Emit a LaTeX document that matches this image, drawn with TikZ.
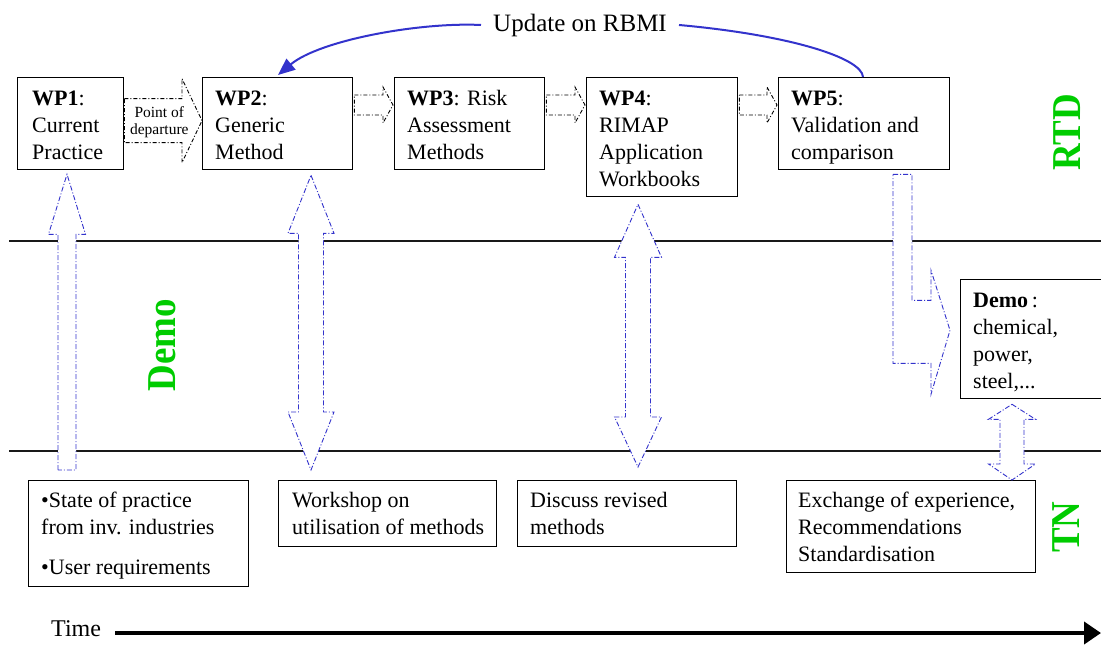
\documentclass[tikz,border=0pt]{standalone}
\usepackage{fontspec}
\usepackage{graphicx}
\setmainfont{Liberation Serif}
\usetikzlibrary{calc,arrows.meta}

\definecolor{linkblue}{RGB}{51,51,204}
\definecolor{phasegreen}{RGB}{0,204,0}

% horizontal block arrow: start, tip, shaft half-height, head half-height, head length, style
\newcommand{\hblockarrow}[6]{%
  \draw[#6] ($(#1)+(0,-#3)$) -- ($(#2)+(-#5,-#3)$) -- ($(#2)+(-#5,-#4)$) -- (#2)
    -- ($(#2)+(-#5,#4)$) -- ($(#2)+(-#5,#3)$) -- ($(#1)+(0,#3)$) -- cycle;}
% upward block arrow: flat bottom, tip, shaft half-width, head half-width, head length, style
\newcommand{\upblockarrow}[6]{%
  \draw[#6] ($(#1)+(-#3,0)$) -- ($(#2)+(-#3,#5)$) -- ($(#2)+(-#4,#5)$) -- (#2)
    -- ($(#2)+(#4,#5)$) -- ($(#2)+(#3,#5)$) -- ($(#1)+(#3,0)$) -- cycle;}
% two-headed vertical block arrow: top tip, bottom tip, shaft half-width, head half-width,
% top head length, bottom head length, style
\newcommand{\vdoublearrow}[7]{%
  \draw[#7] (#1) -- ($(#1)+(#4,#5)$) -- ($(#1)+(#3,#5)$) -- ($(#2)+(#3,-#6)$)
    -- ($(#2)+(#4,-#6)$) -- (#2) -- ($(#2)+(-#4,-#6)$) -- ($(#2)+(-#3,-#6)$)
    -- ($(#1)+(-#3,#5)$) -- ($(#1)+(-#4,#5)$) -- cycle;}

\tikzset{
  box/.style={draw=black, line width=1.3pt, fill=white, inner sep=0pt, anchor=north west},
  txt/.style={inner sep=0pt, anchor=north west, align=left,
    font=\fontsize{22}{27}\selectfont},
  phase/.style={text=phasegreen, inner sep=0pt, rotate=90,
    font=\bfseries\fontsize{41}{41}\selectfont},
  bandline/.style={draw=black!90, line width=1.6pt},
  blockblack/.style={draw=black, fill=white, line width=0.9pt,
    dash pattern=on 4pt off 2pt on 1pt off 2pt},
  blockblue/.style={draw=linkblue, fill=white, line width=0.9pt,
    dash pattern=on 5pt off 2pt on 1pt off 2pt},
  feedback/.style={draw=linkblue, line width=2pt},
  timeline/.style={line width=4pt, -{Triangle[length=17pt,width=22pt]}}
}

\begin{document}
\begin{tikzpicture}[x=1pt, y=-1pt]
\useasboundingbox (0,0) rectangle (1101,651);

% band separators
\coordinate (l1w) at (9,241);  \coordinate (l1e) at (1101,241);
\coordinate (l2w) at (9,451);  \coordinate (l2e) at (1101,451);
\draw[bandline] (l1w) -- (l1e);
\draw[bandline] (l2w) -- (l2e);

% work packages
\node[box, minimum width=106pt, minimum height=92pt]  (wp1) at (17,77)  {};
\node[box, minimum width=150pt, minimum height=92pt]  (wp2) at (202,77) {};
\node[box, minimum width=150pt, minimum height=92pt]  (wp3) at (394,77) {};
\node[box, minimum width=151pt, minimum height=119pt] (wp4) at (586,77) {};
\node[box, minimum width=171pt, minimum height=92pt]  (wp5) at (778,77) {};
\node[txt] (wp1t) at ($(wp1.north west)+(15,9.1)$) {\strut\textbf{WP1}:\\Current\\Practice};
\node[txt] (wp2t) at ($(wp2.north west)+(13,9.1)$) {\strut\textbf{WP2}:\\Generic\\Method};
\node[txt] (wp3t) at ($(wp3.north west)+(13,9.1)$) {\strut\textbf{WP3}: Risk\\Assessment\\Methods};
\node[txt] (wp4t) at ($(wp4.north west)+(13,9.1)$) {\strut\textbf{WP4}:\\RIMAP\\Application\\Workbooks};
\node[txt] (wp5t) at ($(wp5.north west)+(13,9.1)$) {\strut\textbf{WP5}:\\Validation and\\comparison};

% demonstration box
\node[box, minimum width=144pt, minimum height=119pt] (demo) at (960,279) {};
\node[txt] (demot) at ($(demo.north west)+(13,9.1)$) {\strut\textbf{Demo}\,:\\chemical,\\power,\\steel,...};

% thematic network boxes
\node[box, minimum width=220pt, minimum height=106pt] (bx1) at (28,480)  {};
\node[box, minimum width=218pt, minimum height=66pt]  (bx2) at (278,480) {};
\node[box, minimum width=219pt, minimum height=66pt]  (bx3) at (517,480) {};
\node[box, minimum width=249pt, minimum height=92pt]  (bx4) at (786,480) {};
\node[txt] (bx1t) at ($(bx1.north west)+(13,8.1)$) {\strut•State of practice\\from inv. industries\\[13pt]•User requirements};
\node[txt] (bx2t) at ($(bx2.north west)+(14,8.1)$) {\strut Workshop on\\utilisation of methods};
\node[txt] (bx3t) at ($(bx3.north west)+(13,8.1)$) {\strut Discuss revised\\methods};
\node[txt] (bx4t) at ($(bx4.north west)+(12,8.1)$) {\strut Exchange of experience,\\Recommendations\\Standardisation};

% flow between work packages
\hblockarrow{$(wp1.east)+(0,-3)$}{$(wp2.west)+(0,-3)$}{22}{42}{20}{blockblack}
\node[inner sep=0pt, anchor=north, align=center, font=\fontsize{15.5}{17}\selectfont]
  (pod) at ($(wp1.east)+(35,-17.9)$) {\strut Point of\\departure};
\coordinate (f23s) at ($(wp2.north east)+(1,28)$);  \coordinate (f23e) at ($(wp3.north west)+(-1,28)$);
\coordinate (f34s) at ($(wp3.north east)+(1,28)$);  \coordinate (f34e) at ($(wp4.north west)+(-1,28)$);
\coordinate (f45s) at ($(wp4.north east)+(1,28)$);  \coordinate (f45e) at ($(wp5.north west)+(-1,28)$);
\hblockarrow{f23s}{f23e}{10}{18}{10}{blockblack}
\hblockarrow{f34s}{f34e}{10}{18}{10}{blockblack}
\hblockarrow{f45s}{f45e}{10}{18}{10}{blockblack}

% links between the thematic network and the work packages
\coordinate (a1t) at ($(wp1.south west)+(50,4)$);
\path (a1t |- bx1.north) ++(0,-10) coordinate (a1b);
\upblockarrow{a1b}{a1t}{9}{18.5}{60}{blockblue}

\coordinate (a2t) at ($(wp2.south west)+(109,5)$);
\path (a2t |- bx2.north) ++(0,-10) coordinate (a2b);
\vdoublearrow{a2t}{a2b}{12.5}{23}{58}{58}{blockblue}

\coordinate (a4t) at ($(wp4.south west)+(52,7)$);
\path (a4t |- bx3.north) ++(0,-13) coordinate (a4b);
\vdoublearrow{a4t}{a4b}{12.5}{23.5}{53}{50}{blockblue}

\coordinate (adt) at ($(demo.south west)+(52,5)$);
\path (adt |- bx4.north) coordinate (adb);
\vdoublearrow{adt}{adb}{12}{23.5}{15}{16}{blockblue}

% validation results fed into the demonstrations
\coordinate (a5) at ($(wp5.south west)+(115,4)$);
\draw[blockblue] (a5) -- ++(19,0) -- ++(0,126) -- ++(19,0) -- ++(0,-30) -- ++(19,60)
  -- ++(-19,64) -- ++(0,-31) -- ++(-38,0) -- cycle;

% feedback loop
\node[inner xsep=12pt, inner ysep=0pt, anchor=base, font=\fontsize{25}{30}\selectfont]
  (upd) at (580,31) {Update on RBMI};
\coordinate (w5t) at ($(wp5.north west)+(85,0)$);
\coordinate (w2t) at ($(wp2.north west)+(76,-2)$);
\draw[feedback] (w5t) .. controls (862,58) and (790,35) .. (upd.east);
\draw[feedback, -{Triangle[length=17pt,width=14pt]}]
  (upd.west) .. controls (420,22) and (320,40) .. (w2t);

% phase labels
\node[phase] (rtd)  at (1067.5,132.5) {\scalebox{0.9}[1]{RTD}};
\node[phase] (demolabel) at (162.5,345) {\scalebox{0.9}[1]{Demo}};
\node[phase] (tn)   at (1066,527) {\scalebox{0.9}[1]{TN}};

% time axis
\node[inner sep=0pt, anchor=base west, font=\fontsize{24}{28}\selectfont] (time) at (51,636) {Time};
\coordinate (tend) at (1101,633);
\draw[timeline] ($(time.base east)+(14,-3)$) -- (tend);
\end{tikzpicture}
\end{document}
